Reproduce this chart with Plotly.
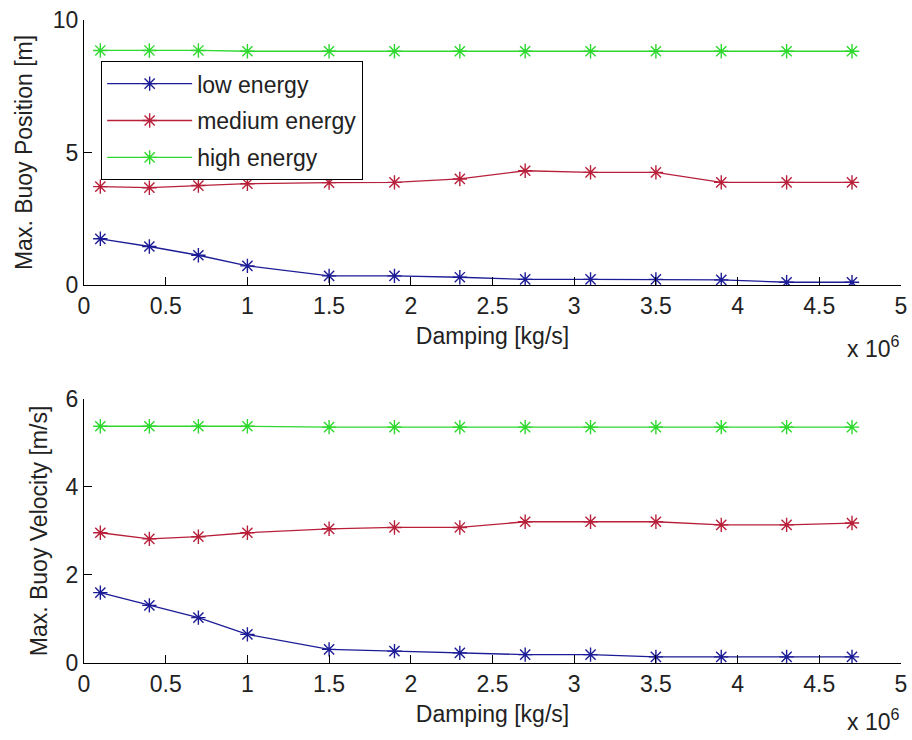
import plotly.graph_objects as go
from plotly.subplots import make_subplots

damping = [0.1e6, 0.4e6, 0.7e6, 1.0e6, 1.5e6, 1.9e6, 2.3e6, 2.7e6, 3.1e6, 3.5e6, 3.9e6, 4.3e6, 4.7e6]

pos_low = [1.74, 1.45, 1.12, 0.72, 0.34, 0.34, 0.29, 0.21, 0.21, 0.21, 0.19, 0.10, 0.10]
pos_med = [3.71, 3.67, 3.75, 3.82, 3.86, 3.87, 4.00, 4.31, 4.25, 4.25, 3.87, 3.87, 3.87]
pos_high = [8.85, 8.85, 8.85, 8.82, 8.82, 8.82, 8.82, 8.82, 8.82, 8.82, 8.82, 8.82, 8.82]

vel_low = [1.60, 1.31, 1.03, 0.65, 0.31, 0.27, 0.23, 0.19, 0.19, 0.14, 0.14, 0.14, 0.14]
vel_med = [2.96, 2.82, 2.87, 2.96, 3.05, 3.08, 3.08, 3.21, 3.21, 3.21, 3.14, 3.14, 3.18]
vel_high = [5.38, 5.38, 5.38, 5.38, 5.36, 5.36, 5.36, 5.36, 5.36, 5.36, 5.36, 5.36, 5.36]

series_names = ["low energy", "medium energy", "high energy"]
line_colors = ["#1c1c96", "#b8203a", "#2ed82e"]
marker_colors = ["#0000ee", "#e0103a", "#22ee22"]

xtick_vals = [0, 0.5e6, 1e6, 1.5e6, 2e6, 2.5e6, 3e6, 3.5e6, 4e6, 4.5e6, 5e6]
xtick_text = ["0", "0.5", "1", "1.5", "2", "2.5", "3", "3.5", "4", "4.5", "5"]

FONT = "Liberation Sans, Arial, Helvetica, sans-serif"
FS = 23

fig = make_subplots(rows=2, cols=1, vertical_spacing=0.177)

for i, (ys, name) in enumerate(zip([pos_low, pos_med, pos_high], series_names)):
    fig.add_trace(go.Scatter(
        x=damping, y=ys, name=name, mode="lines+markers",
        legendgroup=name,
        line=dict(color=line_colors[i], width=1.3),
        marker=dict(symbol="asterisk-open", size=12,
                    line=dict(color=marker_colors[i], width=1.4)),
    ), row=1, col=1)

for i, (ys, name) in enumerate(zip([vel_low, vel_med, vel_high], series_names)):
    fig.add_trace(go.Scatter(
        x=damping, y=ys, name=name, mode="lines+markers",
        showlegend=False,
        line=dict(color=line_colors[i], width=1.3),
        marker=dict(symbol="asterisk-open", size=12,
                    line=dict(color=marker_colors[i], width=1.4)),
    ), row=2, col=1)

axis_common = dict(
    showline=True, linecolor="black", linewidth=1,
    ticks="inside", ticklen=8, tickcolor="black", tickwidth=1,
    showgrid=False, zeroline=False, mirror=False,
    tickfont=dict(family=FONT, size=FS, color="#222"),
)

fig.update_xaxes(range=[0, 5e6], tickvals=xtick_vals, ticktext=xtick_text,
                 title=dict(text="Damping [kg/s]", standoff=10,
                            font=dict(family=FONT, size=FS, color="#222")),
                 **axis_common)
fig.update_yaxes(**axis_common)

fig.update_layout(
    xaxis=dict(domain=[0, 1]),
    xaxis2=dict(domain=[0, 1]),
    yaxis=dict(domain=[0.588, 1.0], range=[0, 10], tickvals=[0, 5, 10],
               title=dict(text="Max. Buoy Position [m]", standoff=13,
                          font=dict(family=FONT, size=FS, color="#222"))),
    yaxis2=dict(domain=[0.0, 0.4106], range=[0, 6], tickvals=[0, 2, 4, 6],
                title=dict(text="Max. Buoy Velocity [m/s]", standoff=11,
                           font=dict(family=FONT, size=FS, color="#222"))),
    width=912, height=740,
    margin=dict(l=84, r=11, t=20, b=77, autoexpand=False),
    paper_bgcolor="white", plot_bgcolor="white",
    showlegend=True,
    legend=dict(x=0.021, y=0.936, xanchor="left", yanchor="top",
                bordercolor="black", borderwidth=1, bgcolor="white",
                font=dict(family=FONT, size=FS, color="#222"),
                traceorder="grouped", tracegroupgap=4, itemwidth=85),
    annotations=[
        dict(text="x 10<sup>6</sup>", xref="paper", yref="paper",
             x=1.0, y=0.492, xanchor="right", yanchor="middle", showarrow=False,
             font=dict(family=FONT, size=FS, color="#222")),
        dict(text="x 10<sup>6</sup>", xref="paper", yref="paper",
             x=1.0, y=-0.088, xanchor="right", yanchor="middle", showarrow=False,
             font=dict(family=FONT, size=FS, color="#222")),
    ],
)

fig.write_html("out.html",
               config={"displayModeBar": False},
               post_script="document.body.style.margin='0';document.body.style.overflow='hidden';")
